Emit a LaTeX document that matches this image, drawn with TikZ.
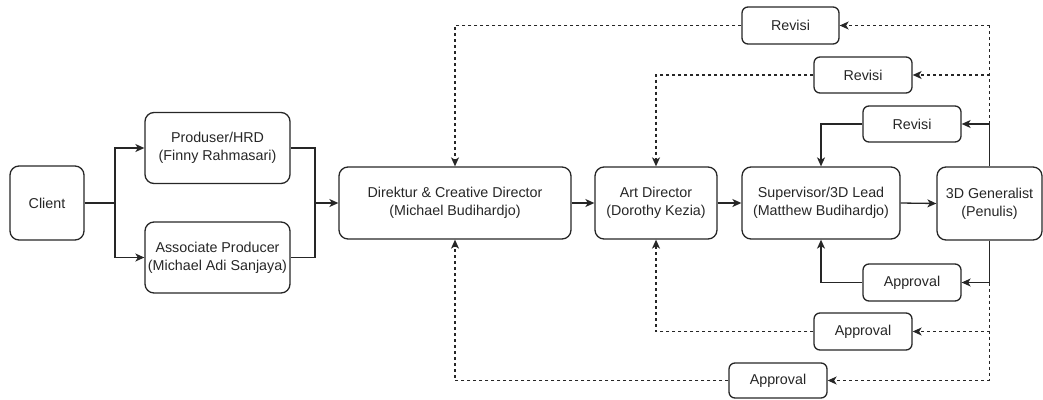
\documentclass[tikz,border=0pt]{standalone}
\usepackage{fontspec}
\setmainfont{Liberation Sans}
\usetikzlibrary{arrows.meta}
\begin{document}
\begin{tikzpicture}[x=1pt,y=-1pt,
  box/.style={draw=black!85, line width=1.3pt, rounded corners=9pt, align=center, inner sep=0pt,
     font=\fontsize{14.3}{18}\selectfont, text=black!85},
  sbox/.style={draw=black!85, line width=1.3pt, rounded corners=6pt, align=center, inner sep=0pt,
     font=\fontsize{14.3}{18}\selectfont, text=black!85},
  con/.style={draw=black!85, line width=1.3pt},
  arr/.style={con, -{Stealth[length=9pt,width=8pt,inset=2.5pt]}},
  darr/.style={arr, dash pattern=on 3pt off 3pt},
  dcon/.style={con, dash pattern=on 3pt off 3pt}]
\useasboundingbox (0,0) rectangle (1043,399);
% nodes
\node[box, minimum width=74pt, minimum height=74pt] (client) at (47,203) {Client};
\node[box, minimum width=145pt, minimum height=71pt] (prod) at (217.5,148) {Produser/HRD\\(Finny Rahmasari)};
\node[box, minimum width=145pt, minimum height=71pt] (assoc) at (217.5,257.5) {Associate Producer\\(Michael Adi Sanjaya)};
\node[box, minimum width=232pt, minimum height=72pt] (dir) at (455,203) {Direktur \& Creative Director\\(Michael Budihardjo)};
\node[box, minimum width=122pt, minimum height=72pt] (art) at (656,203) {Art Director\\(Dorothy Kezia)};
\node[box, minimum width=158pt, minimum height=72pt] (sup) at (821,203) {Supervisor/3D Lead\\(Matthew Budihardjo)};
\node[box, minimum width=105pt, minimum height=73pt] (gen) at (989.5,203.5) {3D Generalist\\(Penulis)};
\node[sbox, minimum width=97pt, minimum height=37pt] (rev1) at (790.5,25.5) {Revisi};
\node[sbox, minimum width=98pt, minimum height=36pt] (rev2) at (863,75) {Revisi};
\node[sbox, minimum width=98pt, minimum height=36pt] (rev3) at (912,124) {Revisi};
\node[sbox, minimum width=98pt, minimum height=37pt] (app1) at (912,282.5) {Approval};
\node[sbox, minimum width=98pt, minimum height=37pt] (app2) at (863,331.5) {Approval};
\node[sbox, minimum width=98pt, minimum height=35pt] (app3) at (778,380.5) {Approval};
% coordinates
\coordinate (split) at (115,203);
\coordinate (merge) at (315,203);
\coordinate (t3) at (gen.north |- rev3.east);
\coordinate (t2) at (gen.north |- rev2.east);
\coordinate (t1) at (gen.north |- rev1.east);
\coordinate (b1) at (gen.south |- app1.east);
\coordinate (b2) at (gen.south |- app2.east);
\coordinate (b3) at (gen.south |- app3.east);
% main flow
\draw[con] (client.east) -- (split);
\draw[arr] (split) |- (prod.west);
\draw[arr] (split) |- (assoc.west);
\draw[con] (prod.east) -| (merge);
\draw[con] (assoc.east) -| (merge);
\draw[arr] (merge) -- (dir.west);
\draw[arr] (dir.east) -- (art.west);
\draw[arr] (art.east) -- (sup.west);
\draw[arr] (sup.east) -- (gen.west);
% revisions
\draw[arr] (gen.north) -- (t3) -- (rev3.east);
\draw[dcon] (t3) -- (t1);
\draw[darr] (t2) -- (rev2.east);
\draw[darr] (t1) -- (rev1.east);
\draw[arr] (rev3.west) -| (sup.north);
\draw[darr] (rev2.west) -| (art.north);
\draw[darr] (rev1.west) -| (dir.north);
% approvals
\draw[arr] (gen.south) -- (b1) -- (app1.east);
\draw[dcon] (b1) -- (b3);
\draw[darr] (b2) -- (app2.east);
\draw[darr] (b3) -- (app3.east);
\draw[arr] (app1.west) -| (sup.south);
\draw[darr] (app2.west) -| (art.south);
\draw[darr] (app3.west) -| (dir.south);
\end{tikzpicture}
\end{document}
